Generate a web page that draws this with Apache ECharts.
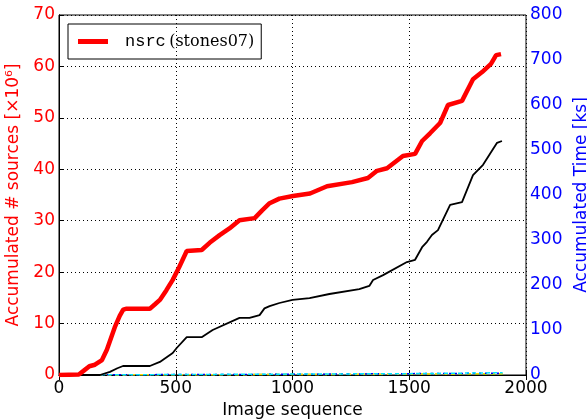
<!DOCTYPE html>
<html>
<head>
<meta charset="utf-8">
<script src="https://cdn.jsdelivr.net/npm/echarts@6/dist/echarts.min.js"></script>
<style>
  html, body { margin: 0; padding: 0; background: #fff; }
  #chart { width: 587px; height: 420px; }
</style>
</head>
<body>
<div id="chart"></div>
<script>
// accumulated number of sources (x10^6) vs image sequence
const nsrcSeq = [0, 85, 105, 130, 154, 184, 205, 239, 260, 275, 290, 389, 410, 432, 460, 487, 515, 547, 611, 645, 688, 730, 773, 838, 870, 902, 944, 1002, 1075, 1148, 1255, 1323, 1362, 1405, 1473, 1525, 1555, 1589, 1632, 1666, 1726, 1773, 1812, 1850, 1872, 1893]
const nsrcValues = [0, 0.1, 0.8, 1.7, 2.0, 2.9, 4.9, 9.3, 11.5, 12.7, 12.9, 12.9, 13.7, 14.6, 16.5, 18.5, 21, 24.1, 24.3, 25.7, 27.2, 28.5, 30.1, 30.5, 32, 33.4, 34.3, 34.8, 35.3, 36.7, 37.5, 38.3, 39.7, 40.2, 42.6, 43, 45.5, 47, 49, 52.5, 53.3, 57.5, 58.9, 60.5, 62.2, 62.4]

// accumulated time (ks)
const timeSeq = [0, 175, 218, 250, 274, 389, 432, 487, 504, 547, 611, 658, 773, 816, 859, 880, 902, 944, 1000, 1073, 1158, 1286, 1329, 1345, 1388, 1490, 1525, 1555, 1576, 1597, 1623, 1675, 1726, 1773, 1816, 1876, 1897]
const timeValues = [0, 0, 7, 15, 20, 20, 29, 49, 60, 84, 84, 100, 127, 127, 133, 148, 153, 160, 167, 171, 180, 191, 198, 211, 222, 251, 256, 284, 296, 311, 322, 378, 384, 444, 467, 516, 520]

// small per-step times near zero (ks)
const stepSeq = [0, 500, 1000, 1500, 1900]
const stepCyan = [0, 1, 2, 3, 5]
const stepBlue = [0, 1, 1.5, 3, 4]
const stepYellow = [0, 0.5, 1, 2, 3]
const stepGreen = [0, 0.5, 1, 1.5, 2]

const pairs = (xs, ys) => xs.map((x, i) => [x, ys[i]])

const font = 'DejaVu Sans'
const chart = echarts.init(document.getElementById('chart'))

const minor = (name, xs, ys, color, type) => ({
  name, type: 'line', yAxisIndex: 1, data: pairs(xs, ys), showSymbol: false,
  lineStyle: { color, width: 1.5, type }, itemStyle: { color }, z: 1
})

chart.setOption({
  animation: false,
  grid: {
    left: 59, right: 61, top: 15, bottom: 45,
    containLabel: false, outerBoundsMode: 'none',
    show: true, borderColor: '#000', borderWidth: 1
  },
  legend: {
    data: ['nsrc'],
    left: 68, top: 24,
    padding: [9, 7, 9, 10],
    borderColor: '#000', borderWidth: 1,
    icon: 'rect', itemWidth: 30, itemHeight: 5,
    formatter: () => '{a|nsrc} {b|(stones07)}',
    textStyle: {
      padding: [0, 0, 0, 12],
      rich: {
        a: { fontFamily: 'Liberation Mono', fontSize: 17, color: '#000' },
        b: { fontFamily: 'DejaVu Serif', fontSize: 16, color: '#000' }
      }
    }
  },
  xAxis: [{
    type: 'value', position: 'bottom', min: 0, max: 2000, interval: 500,
    name: 'Image sequence', nameLocation: 'middle', nameGap: 27,
    nameTextStyle: { fontFamily: font, fontSize: 17, color: '#000' },
    axisLine: { lineStyle: { color: '#000' } },
    axisTick: { inside: true, length: 5, lineStyle: { color: '#000' } },
    axisLabel: { fontFamily: font, fontSize: 17, color: '#000', margin: 5, formatter: v => String(v) },
    splitLine: { show: true, lineStyle: { color: '#000', type: [1, 3] } }
  }, {
    type: 'value', position: 'top', min: 0, max: 2000, interval: 500,
    axisLine: { lineStyle: { color: '#000' } },
    axisTick: { inside: true, length: 5, lineStyle: { color: '#000' } },
    axisLabel: { show: false }, splitLine: { show: false }
  }],
  yAxis: [{
    type: 'value', position: 'left', offset: 0, min: 0, max: 70, interval: 10,
    name: 'Accumulated # sources [×10⁶]', nameLocation: 'middle', nameGap: 36,
    nameTextStyle: { fontFamily: font, fontSize: 17, color: '#ff0000' },
    axisLine: { show: true, lineStyle: { color: '#000' } },
    axisTick: { inside: true, length: 5, lineStyle: { color: '#000' } },
    axisLabel: { fontFamily: font, fontSize: 17, color: '#ff0000', margin: 4 },
    splitLine: { show: true, lineStyle: { color: '#000', type: [1, 3] } }
  }, {
    type: 'value', position: 'right', offset: 0, min: 0, max: 800, interval: 100,
    name: 'Accumulated Time [ks]', nameLocation: 'middle', nameGap: 45,
    nameTextStyle: { fontFamily: font, fontSize: 17, color: '#0000ff' },
    axisLine: { show: true, lineStyle: { color: '#000' } },
    axisTick: { show: false },
    axisLabel: { fontFamily: font, fontSize: 17, color: '#0000ff', margin: 4 },
    splitLine: { show: false }
  }],
  series: [
    minor('green', stepSeq, stepGreen, '#2ca02c', [4, 4]),
    minor('yellow', stepSeq, stepYellow, '#ffd700', [4, 4]),
    minor('blue', stepSeq, stepBlue, '#0000ff', [2, 4]),
    minor('cyan', stepSeq, stepCyan, '#00e5ff', [4, 3]),
    {
      name: 'time', type: 'line', yAxisIndex: 1, data: pairs(timeSeq, timeValues),
      showSymbol: false, lineStyle: { color: '#000', width: 1.8 }, itemStyle: { color: '#000' }, z: 2
    },
    {
      name: 'nsrc', type: 'line', yAxisIndex: 0, data: pairs(nsrcSeq, nsrcValues),
      showSymbol: false, lineStyle: { color: '#ff0000', width: 4.5 }, itemStyle: { color: '#ff0000' }, z: 3
    }
  ]
})
</script>
</body>
</html>
